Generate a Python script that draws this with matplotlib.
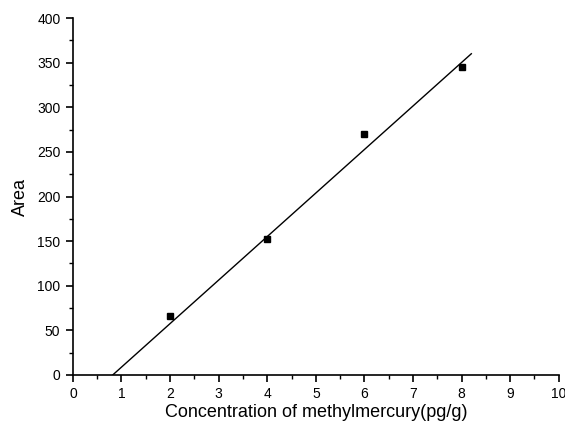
import numpy as np
import matplotlib
matplotlib.use('Agg')
import matplotlib.pyplot as plt
from matplotlib.ticker import MultipleLocator

# data
conc = [2, 4, 6, 8]
area = [66, 152, 270, 345]
# fitted line end points
fit_x = [0.82, 8.2]
fit_y = [0, 360]

plt.rcParams['font.family'] = ['Liberation Sans', 'DejaVu Sans']

fig = plt.figure(figsize=(5.65, 4.3), dpi=100)
ax = fig.add_axes([0.129, 0.128, 0.860, 0.830])

ax.plot(fit_x, fit_y, color='black', lw=1.0)
ax.plot(conc, area, 's', color='black', ms=5)

ax.set_xlim(0, 10)
ax.set_ylim(0, 400)
ax.xaxis.set_major_locator(MultipleLocator(1))
ax.xaxis.set_minor_locator(MultipleLocator(0.5))
ax.yaxis.set_major_locator(MultipleLocator(50))
ax.yaxis.set_minor_locator(MultipleLocator(25))

ax.spines['top'].set_visible(False)
ax.spines['right'].set_visible(False)
for s in ['left', 'bottom']:
    ax.spines[s].set_linewidth(1.2)
ax.tick_params(which='major', direction='out', length=5, width=1.2, labelsize=10, pad=4)
ax.tick_params(which='minor', direction='out', length=3, width=1.0)

ax.set_xlabel('Concentration of methylmercury(pg/g)', fontsize=13, labelpad=2)
ax.set_ylabel('Area', fontsize=13, labelpad=6)

fig.savefig('out.png', dpi=100)
